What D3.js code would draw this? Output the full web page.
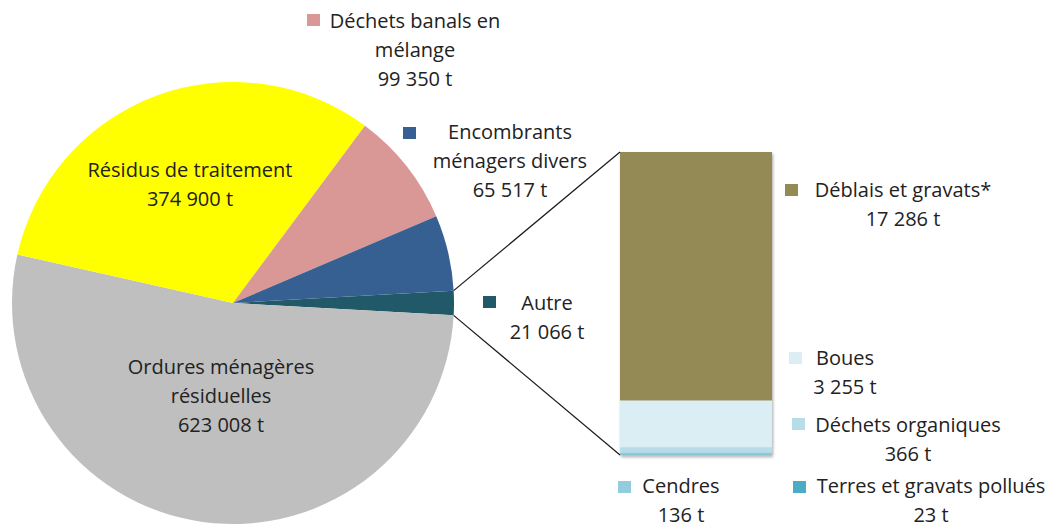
<!DOCTYPE html>
<html>
<head>
<meta charset="utf-8">
<script src="https://cdn.jsdelivr.net/npm/d3@7"></script>
<style>
body { margin: 0; background: #fff; }
text { font-family: "Open Sans", sans-serif; font-size: 20px; fill: #222; }
</style>
</head>
<body>
<svg id="chart" width="1053" height="526"></svg>
<script>
// pie : first slice is "Autre", exploded into the bar on the right
var pieNames = ["Autre", "Ordures ménagères résiduelles", "Résidus de traitement", "Déchets banals en mélange", "Encombrants ménagers divers"];
var pieValues = [21066, 623008, 374900, 99350, 65517];
var pieColors = ["#215968", "#bfbfbf", "#ffff00", "#d99795", "#376092"];
var pieLabels = [
    ["Autre", "21 066 t"],
    ["Ordures ménagères", "résiduelles", "623 008 t"],
    ["Résidus de traitement", "374 900 t"],
    ["Déchets banals en", "mélange", "99 350 t"],
    ["Encombrants", "ménagers divers", "65 517 t"]
];

// bar : breakdown of "Autre", top to bottom
var barNames = ["Déblais et gravats*", "Boues", "Déchets organiques", "Cendres", "Terres et gravats pollués"];
var barValues = [17286, 3255, 366, 136, 23];
var barColors = ["#948a54", "#dbeef4", "#b7dee8", "#93cddd", "#4bacc6"];
var barLabels = [
    ["Déblais et gravats*", "17 286 t"],
    ["Boues", "3 255 t"],
    ["Déchets organiques", "366 t"],
    ["Cendres", "136 t"],
    ["Terres et gravats pollués", "23 t"]
];

// layout
var cx = 233, cy = 303, radius = 221;
var barX = 620, barW = 152, barTop = 152, barBottom = 455;
var lineGap = 29;
// label placement: x = centre of text, y = centre of first line, sq = legend square
var pieLabelPos = [
    {x: 547, y: 303, sq: [483, 296]},
    {x: 221, y: 367, sq: null},
    {x: 190, y: 170, sq: null},
    {x: 415, y: 21, sq: [307, 14]},
    {x: 510, y: 132, sq: [403, 127]}
];
var barLabelPos = [
    {x: 903, y: 190, sq: [785, 184]},
    {x: 845, y: 358, sq: [789, 352]},
    {x: 908, y: 425, sq: [792, 418]},
    {x: 681, y: 486, sq: [618, 481]},
    {x: 931, y: 486, sq: [793, 481]}
];

var svg = d3.select("#chart");

svg.append("defs").append("filter").attr("id", "shadow")
    .attr("x", "-10%").attr("y", "-10%").attr("width", "120%").attr("height", "120%")
    .append("feDropShadow")
    .attr("dx", 1).attr("dy", 2).attr("stdDeviation", 1.5)
    .attr("flood-color", "#000").attr("flood-opacity", 0.35);

// rotate so that "Autre" is centred on 3 o'clock
var total = d3.sum(pieValues);
var autreAngle = pieValues[0] / total * 2 * Math.PI;
var offset = Math.PI / 2 - autreAngle / 2;

var pie = d3.pie().sort(null).startAngle(offset).endAngle(offset + 2 * Math.PI);
var arcs = pie(pieValues);
var arc = d3.arc().innerRadius(0).outerRadius(radius);

var g = svg.append("g").attr("transform", "translate(" + cx + "," + cy + ")");
g.selectAll("path").data(arcs).enter().append("path")
    .attr("d", arc)
    .attr("fill", function(d, i) { return pieColors[i]; });

// stacked bar
var y = d3.scaleLinear().domain([0, d3.sum(barValues)]).range([barTop, barBottom]);
var stacked = [];
var acc = 0;
barValues.forEach(function(v, i) {
    stacked.push({y0: acc, y1: acc + v, i: i});
    acc += v;
});

var bar = svg.append("g").attr("filter", "url(#shadow)");
bar.selectAll("rect").data(stacked).enter().append("rect")
    .attr("x", barX)
    .attr("width", barW)
    .attr("y", function(d) { return y(d.y0); })
    .attr("height", function(d) { return Math.max(y(d.y1) - y(d.y0), 0.5); })
    .attr("fill", function(d) { return barColors[d.i]; });

// connector lines from the "Autre" slice to the bar
var a0 = arcs[0].startAngle, a1 = arcs[0].endAngle;
var connectors = [
    [cx + radius * Math.sin(a0), cy - radius * Math.cos(a0), barX, y(0)],
    [cx + radius * Math.sin(a1), cy - radius * Math.cos(a1), barX, y(d3.sum(barValues))]
];
svg.selectAll("line.conn").data(connectors).enter().append("line")
    .attr("class", "conn")
    .attr("x1", function(d) { return d[0]; })
    .attr("y1", function(d) { return d[1]; })
    .attr("x2", function(d) { return d[2]; })
    .attr("y2", function(d) { return d[3]; })
    .attr("stroke", "#1a1a1a")
    .attr("stroke-width", 1.2);

function drawLabels(lines, pos, colors) {
    lines.forEach(function(ls, i) {
        var p = pos[i];
        if (p.sq) {
            svg.append("rect")
                .attr("x", p.sq[0]).attr("y", p.sq[1])
                .attr("width", 13).attr("height", 12)
                .attr("fill", colors[i]);
        }
        var t = svg.append("text").attr("text-anchor", "middle");
        ls.forEach(function(s, k) {
            t.append("tspan")
                .attr("x", p.x)
                .attr("y", p.y + k * lineGap)
                .attr("dy", "0.35em")
                .text(s);
        });
    });
}

drawLabels(pieLabels, pieLabelPos, pieColors);
drawLabels(barLabels, barLabelPos, barColors);
</script>
</body>
</html>
